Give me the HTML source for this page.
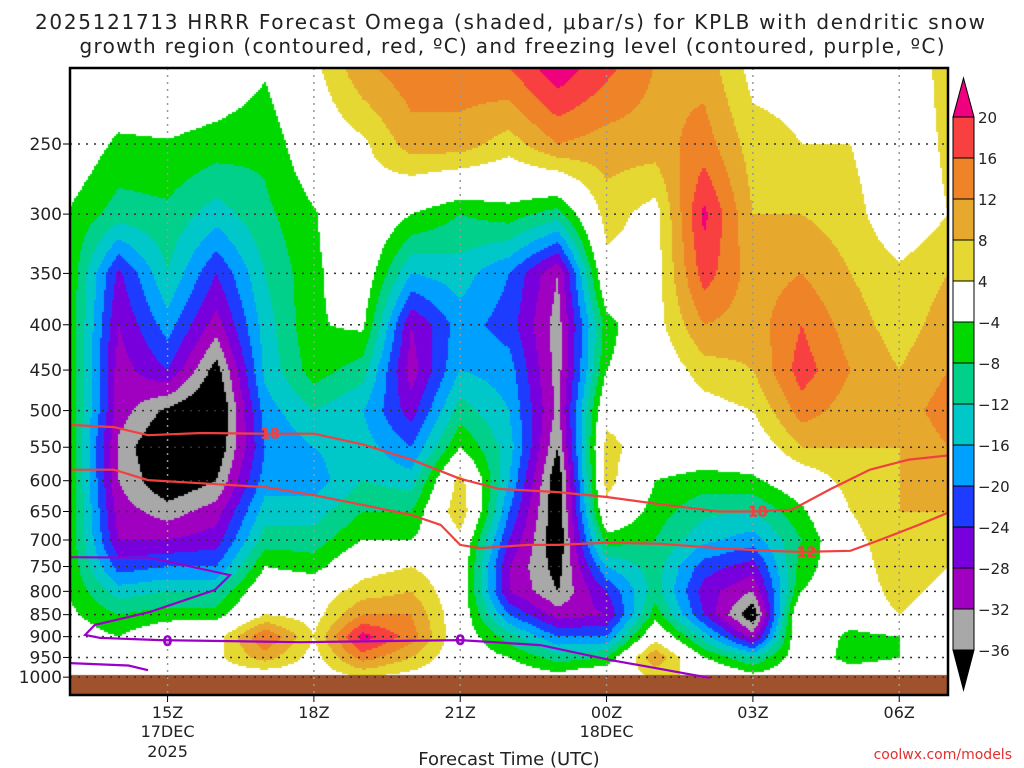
<!DOCTYPE html>
<html><head><meta charset="utf-8"><style>
body{margin:0;background:#fff;width:1024px;height:768px;overflow:hidden;font-family:"DejaVu Sans",sans-serif}
#wrap{position:relative;width:1024px;height:768px}
canvas{position:absolute;left:0;top:0}
svg{position:absolute;left:0;top:0}
</style></head><body>
<div id="wrap">
<canvas id="field" width="1024" height="768"></canvas>
<svg id="svg" width="1024" height="768"></svg>
</div>
<script>
// ---- data ----
const hours = [13,14,15,16,17,18,19,20,21,22,23,24,25,26,27,28,29,30,31];
const pressures = [200,250,300,350,400,450,500,550,600,650,700,750,800,850,900,950,1000];
const omega = [
 [0,0,-4.5,-5,-5,-5,-5,-5,-5,-5,-5,-5,-4.5,-3,-1,0,0],
 [2,-5,-10,-25,-28,-30,-30,-33,-32,-30,-28,-22,-14,-8,-4,0,0],
 [3,-4.5,-9,-12,-18,-24,-37,-42,-40,-34,-28,-20,-12,-6,1,2,0],
 [1,-6,-14,-24,-30,-38,-42,-40,-36,-30,-26,-20,-12,-6,2,3,1],
 [-3,-7,-9,-12,-14,-15,-18,-20,-18,-14,-10,-4,1,4,16,10,0],
 [3,0,-4.5,-5,-4.5,-6,-12,-16,-18,-14,-10,-6,1,2,4,2,1],
 [12,3,2,0,-3,-10,-16,-14,-12,-8,-4,2,6,12,22,14,4],
 [15,10,-4,-16,-28,-30,-26,-20,-14,-8,-4,4,8,12,14,8,2],
 [15,10,-8,-14,-18,-16,-10,-4,6,8,2,0,0,0,0,0,0],
 [17,6,-6,-20,-22,-18,-16,-14,-16,-20,-24,-28,-28,-20,-10,-4,0],
 [24,12,-10,-32,-34,-34,-33,-36,-40,-40,-40,-38,-36,-30,-20,-10,-2],
 [18,10,6,2,-6,-4,2,6,6,2,-6,-16,-24,-28,-20,-8,2],
 [12,10,2,2,2,0,0,0,-4,-6,-8,-10,-10,-6,2,12,4],
 [10,14,21,18,12,6,2,0,-6,-11,-15,-22,-26,-24,-14,-4,4],
 [2,6,8,10,10,8,4,0,-5,-12,-18,-26,-32,-40,-30,-12,-2],
 [2,4,8,12,16,18,14,8,0,-5,-8,-6,-4,4,3,0,0],
 [2,4,6,8,10,12,10,8,6,4,2,0,0,0,-6,-6,0],
 [0,0,0,5,6,8,10,8,8,8,8,8,6,4,-4,-4,0],
 [6,5,4,8,10,12,14,12,10,8,4,4,2,0,0,4,0]
];
const levels = [-36,-32,-28,-24,-20,-16,-12,-8,-4,4,8,12,16,20];
const levelColors = ['#000000','#a8a8a8','#a000c0','#7800dc','#1e3cff','#00a0ff','#00c8c8','#00d08a','#00d800','#ffffff','#e6d832','#e6a92e','#ee8328','#f84040','#ee007e'];
const cbLabels = ['20','16','12','8','4','\u22124','\u22128','\u221212','\u221216','\u221220','\u221224','\u221228','\u221232','\u221236'];
const yTicks = [250,300,350,400,450,500,550,600,650,700,750,800,850,900,950,1000];
const xTickHours = [15,18,21,24,27,30];
const xTickLabels = ['15Z','18Z','21Z','00Z','03Z','06Z'];
const dgz18Hours = [13,13.9,14.6,15.7,17,18,19,20,21,21.8,23,24,25.1,26.3,27,27.8,28.6,29.4,30.2,31];
const dgz18Press = [519,522,533,530,531,531,546,568,597,613,618,626,638,650,650,647,613,583,568,562];
const dgz12Hours = [13,13.9,14.6,15.7,17,18,19,20,20.6,21,21.4,22.4,23,24,25.1,26.3,27.3,28,29,29.6,30.4,31];
const dgz12Press = [583,583,599,604,610,623,639,656,673,709,715,709,709,705,707,715,720,722,720,700,673,652];
const frzHours = [13,14.64,16.28,15.97,14.64,13.51,13.31,13.62,14.85,17.72,21,22.64,24.07,26.12];
const frzPress = [732,733,767,797,844,873,896,903,908,913,908,920,956,1002];
const frz2Hours = [13,14.2,14.6];
const frz2Press = [964,970,982];

// ---- axes ----
const L=70,R=948,T=68,B=695;
const xS = h => L + (h-13)*(R-L)/18;
const yS = p => 144 + 384.6*Math.log(p/250);
const hInv = x => 13 + (x-L)*18/(R-L);
const pInv = y => 250*Math.exp((y-144)/384.6);

// ---- field ----
const ctx=document.getElementById('field').getContext('2d');
function colorFor(v){let i=0;while(i<levels.length&&v>=levels[i])i++;return levelColors[i];}
function val(h,p){
 let fi=Math.max(0,Math.min(hours.length-1.0001,(h-hours[0])));
 let pp=Math.max(200,Math.min(999.99,p));
 let fj=(pp-200)/50;
 let i=Math.floor(fi),j=Math.floor(fj),a=fi-i,b=fj-j;
 const g=(ii,jj)=>omega[Math.min(ii,hours.length-1)][Math.min(jj,pressures.length-1)];
 return (1-a)*(1-b)*g(i,j)+a*(1-b)*g(i+1,j)+(1-a)*b*g(i,j+1)+a*b*g(i+1,j+1);
}
for(let y=T;y<B;y+=2){for(let x=L;x<R;x+=2){ctx.fillStyle=colorFor(val(hInv(x+1),pInv(y+1)));ctx.fillRect(x,y,2,2);}}
ctx.fillStyle='#a0522d';ctx.fillRect(L,675,R-L,B-675);

// ---- svg ----
const svg=document.getElementById('svg');const NS='http://www.w3.org/2000/svg';
function el(tag,attrs,parent){const e=document.createElementNS(NS,tag);for(const k in attrs)e.setAttribute(k,attrs[k]);(parent||svg).appendChild(e);return e;}
function txt(x,y,s,attrs){const e=el('text',Object.assign({x:x,y:y,'font-family':'DejaVu Sans, sans-serif'},attrs));e.textContent=s;return e;}

const grid=el('g',{});


yTicks.forEach(p=>{
 const g=el('line',{x1:L,x2:R,y1:yS(p),y2:yS(p),stroke:'#333','stroke-width':1.5,'stroke-dasharray':'2,6'},grid);
 
 
 const t=el('line',{x1:L-7,x2:L,y1:yS(p),y2:yS(p),stroke:'#000','stroke-width':1});
 
 
 const lb=txt(L-8,yS(p)+6,String(p),{'font-size':17,'text-anchor':'end',fill:'#222'});
 
 
});
xTickHours.forEach((h,i)=>{
 const g=el('line',{x1:xS(h),x2:xS(h),y1:T,y2:B,stroke:'#999','stroke-width':1.5,'stroke-dasharray':'2,5'},grid);
 
 
 const t=el('line',{x1:xS(h),x2:xS(h),y1:B,y2:B+7,stroke:'#000','stroke-width':1});
 
 
 const lb=txt(xS(h),B+23,xTickLabels[i],{'font-size':16,'text-anchor':'middle',fill:'#222'});
 
 
});
const d1=txt(xS(15),737,'17DEC',{'font-size':16,'text-anchor':'middle',fill:'#222'});


const d2=txt(xS(15),757,'2025',{'font-size':16,'text-anchor':'middle',fill:'#222'});


const d3=txt(xS(24),737,'18DEC',{'font-size':16,'text-anchor':'middle',fill:'#222'});



function line(hs,ps,color,name){
 const d=hs.map((h,i)=>(i?'L':'M')+xS(h).toFixed(1)+','+yS(ps[i]).toFixed(1)).join(' ');
 const p=el('path',{d:d,fill:'none',stroke:color,'stroke-width':2.2});
 
 
}
line(dgz18Hours,dgz18Press,'#f04040','dgz-minus18-contour');
line(dgz12Hours,dgz12Press,'#f04040','dgz-minus12-contour');
line(frzHours,frzPress,'#9a00c8','freezing-level-contour');
line(frz2Hours,frz2Press,'#9a00c8','freezing-level-contour-2');
function clabel(h,p,s,color,name){
 const t=txt(xS(h),yS(p)+5,s,{'font-size':14,'font-weight':'bold','text-anchor':'middle',fill:color,stroke:color,'stroke-width':0.4});
 
 
}
clabel(17.1,531,'18','#f04040','contour-label-18');
clabel(27.1,650,'18','#f04040','contour-label-18');
clabel(28.1,722,'12','#f04040','contour-label-12');
clabel(15,910,'0','#9a00c8','contour-label-0');
clabel(21,908,'0','#9a00c8','contour-label-0');

const fr=el('rect',{x:L,y:T,width:R-L,height:B-T,fill:'none',stroke:'#000','stroke-width':2.5});



// colorbar
const cb=el('g',{});


const cbX=953,cbW=21,cbTop=117,cbStep=41;
const nBox=levels.length-1;
for(let k=0;k<nBox;k++){
 const ci=levelColors.length-2-k;
 const r=el('rect',{x:cbX,y:cbTop+k*cbStep,width:cbW,height:cbStep,fill:levelColors[ci],stroke:'#000','stroke-width':1},cb);
 
 
}
const tt=el('polygon',{points:`${cbX},${cbTop} ${cbX+cbW},${cbTop} ${cbX+cbW/2},${cbTop-39}`,fill:levelColors[levelColors.length-1],stroke:'#000'},cb);


const bt=el('polygon',{points:`${cbX},${cbTop+nBox*cbStep} ${cbX+cbW},${cbTop+nBox*cbStep} ${cbX+cbW/2},${cbTop+nBox*cbStep+40}`,fill:levelColors[0],stroke:'#000'},cb);


cbLabels.forEach((s,k)=>{
 const t=txt(978,cbTop+k*cbStep+6,s,{'font-size':15,fill:'#222'},cb);
 
 
});

const t1=txt(510,29,'2025121713 HRRR Forecast Omega (shaded, \u03bcbar/s) for KPLB with dendritic snow',{'font-size':20,'text-anchor':'middle',fill:'#222',textLength:950});


const t2=txt(512,53,'growth region (contoured, red, \u00baC) and freezing level (contoured, purple, \u00baC)',{'font-size':20,'text-anchor':'middle',fill:'#222',textLength:865});


const xt=txt(509,765,'Forecast Time (UTC)',{'font-size':18,'text-anchor':'middle',fill:'#222'});


const cr=txt(1012,759,'coolwx.com/models',{'font-size':14,'text-anchor':'end',fill:'#e03030'});


</script>
</body></html>
